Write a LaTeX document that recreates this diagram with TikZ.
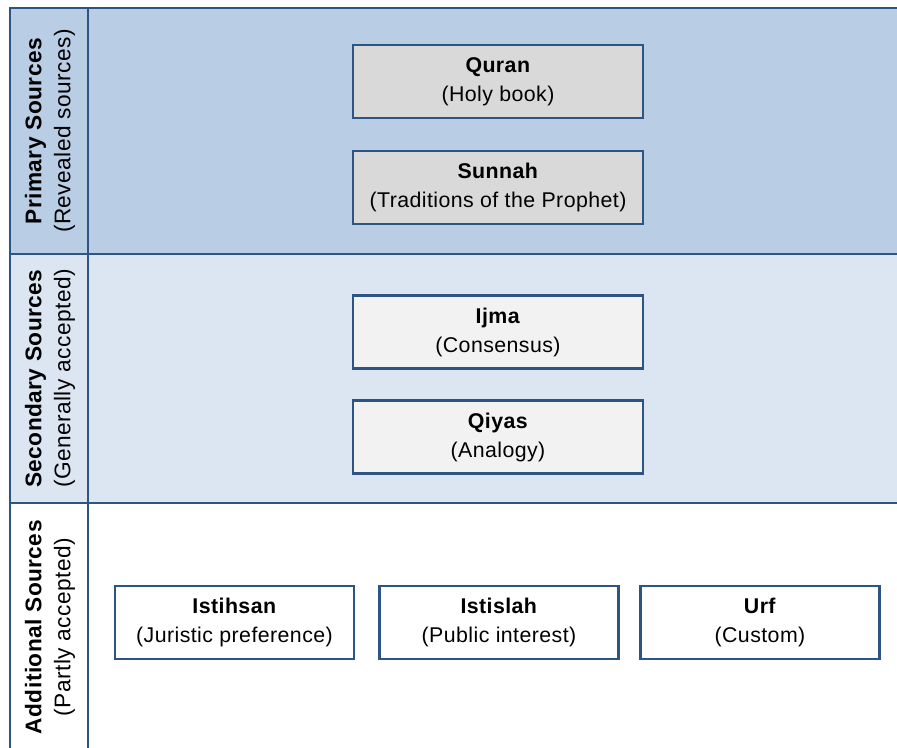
\documentclass[tikz,border=0pt]{standalone}
\usepackage{fontspec}
\setmainfont[LetterSpace=2]{Liberation Sans}
\definecolor{frameblue}{HTML}{2C5485}
\definecolor{primfill}{HTML}{B9CDE5}
\definecolor{secfill}{HTML}{DCE6F2}
\definecolor{darkbox}{HTML}{D9D9D9}
\definecolor{lightbox}{HTML}{F2F2F2}

\begin{document}
\begin{tikzpicture}[x=0.75pt, y=-0.75pt,
                edge/.style={draw=frameblue, line width=1.6pt},
                srcbox/.style={draw=frameblue, line width=1.6pt, align=center, inner sep=0pt,
                        minimum width=217.5pt, minimum height=54.75pt,
                        font=\fontsize{16}{21.75}\selectfont},
                rowlabel/.style={align=center, rotate=90, inner sep=0pt,
                        font=\fontsize{17}{21.75}\selectfont}]
                        \useasboundingbox (0, 0) rectangle (897, 747);
                        \clip (0, 0) rectangle (897, 747);
                        
                        % rows
                        \fill[primfill] (10, 8) rectangle (910, 254);
                        \fill[secfill] (10, 254) rectangle (910, 503);
                        \draw[edge] (10, 8) rectangle (910, 760);
                        \draw[edge] (10, 254) -- (910, 254);
                        \draw[edge] (10, 503) -- (910, 503);
                        \draw[edge] (88, 8) -- (88, 760);
                        
                        % row labels
                        \node[rowlabel] (primlab) at (50, 131){\textbf{Primary Sources}\\(Revealed sources)};
                        \node[rowlabel] (seclab) at (50, 378.5){\textbf{Secondary Sources}\\(Generally accepted)};
                        \node[rowlabel] (addlab) at (50, 627){\textbf{Additional Sources}\\(Partly accepted)};
                        
                        % primary
                        \node[srcbox, fill=darkbox] (quran) at (498, 81.5){\textbf{Quran}\\(Holy book)};
                        \node[srcbox, fill=darkbox] (sunnah) at (498, 187.5){\textbf{Sunnah}\\(Traditions of the Prophet)};
                        
                        % secondary
                        \node[srcbox, fill=lightbox] (ijma) at (498, 332){\textbf{Ijma}\\(Consensus)};
                        \node[srcbox, fill=lightbox] (qiyas) at (498, 437){\textbf{Qiyas}\\(Analogy)};
                        
                        % additional
                        \node[srcbox, fill=white, minimum width=179.25pt] (istihsan) at (234.5, 622.5){\textbf{Istihsan}\\(Juristic preference)};
                        \node[srcbox, fill=white, minimum width=179.25pt] (istislah) at (499, 622.5){\textbf{Istislah}\\(Public interest)};
                        \node[srcbox, fill=white, minimum width=179.25pt] (urf) at (760, 622.5){\textbf{Urf}\\(Custom)};
                \end{tikzpicture}
\end{document}
